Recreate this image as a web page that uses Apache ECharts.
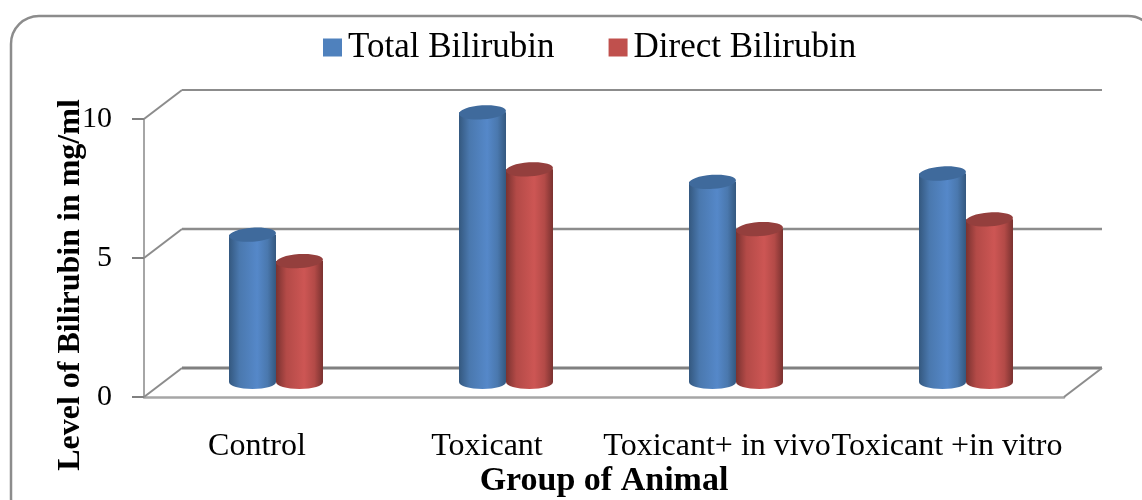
<!DOCTYPE html>
<html>
<head>
<meta charset="utf-8">
<style>html,body{margin:0;padding:0;background:#fff;overflow:hidden}#chart{width:1142px;height:500px}</style>
<script src="https://cdn.jsdelivr.net/npm/echarts@6/dist/echarts.min.js"></script>
</head>
<body>
<div id="chart"></div>
<script>
// Bilirubin levels by animal group
const categories = ['Control', 'Toxicant', 'Toxicant+ in vivo', 'Toxicant +in vitro'];
const totalBilirubin = [5.3, 9.7, 7.2, 7.5];
const directBilirubin = [4.35, 7.65, 5.5, 5.85];
const yTicks = [0, 5, 10];

const FONT = '"Liberation Serif", "Times New Roman", serif';
const DEPTH_X = 38, DEPTH_Y = 29;      // offset of the back wall from the front plane
const BAR_SHIFT_X = 17, BAR_SHIFT_Y = 15; // bars stand part-way into the floor
const BAR_R = 23.5, BAR_RY = 7;

const shade = (edge, mid, peak) => ({
  type: 'linear', x: 0, y: 0, x2: 1, y2: 0,
  colorStops: [
    { offset: 0, color: edge }, { offset: 0.22, color: mid },
    { offset: 0.6, color: peak }, { offset: 0.82, color: mid }, { offset: 1, color: edge }
  ]
});

// One 3D-looking cylinder per data item
function cylinder(dir, body, cap) {
  return function (params, api) {
    const base = api.coord([api.value(0), 0]);
    const top = api.coord([api.value(0), api.value(1)]);
    const cx = base[0] + BAR_SHIFT_X + dir * BAR_R;
    const y0 = base[1] - BAR_SHIFT_Y, y1 = top[1] - BAR_SHIFT_Y;
    return {
      type: 'group',
      children: [
        { type: 'ellipse', shape: { cx, cy: y0, rx: BAR_R, ry: BAR_RY }, style: { fill: body } },
        { type: 'rect', shape: { x: cx - BAR_R, y: y1, width: BAR_R * 2, height: y0 - y1 }, style: { fill: body } },
        { type: 'ellipse', shape: { cx, cy: y1, rx: BAR_R, ry: BAR_RY }, rotation: 0.07, originX: cx, originY: y1, style: { fill: cap } }
      ]
    };
  };
}

// Back wall gridlines, the slanted side edges and the floor
function wall(params, api) {
  const value = api.value(0);
  const p = api.coord([0, value]);
  const band = api.size([1, 0])[0];
  const xStart = p[0] - band / 2;
  const xEnd = xStart + band * categories.length;
  const line = { stroke: '#8c8c8c', lineWidth: 2, fill: null };
  const kids = [
    { type: 'line', shape: { x1: xStart, y1: p[1], x2: xStart + DEPTH_X, y2: p[1] - DEPTH_Y }, style: line },
    { type: 'line', shape: { x1: xStart + DEPTH_X, y1: p[1] - DEPTH_Y, x2: xEnd + DEPTH_X, y2: p[1] - DEPTH_Y },
      style: { stroke: value === 0 ? '#808080' : '#8c8c8c', lineWidth: value === 0 ? 3 : (value === 5 ? 2.5 : 2) } }
  ];
  if (value === 0) {
    kids.push({ type: 'line', shape: { x1: xEnd, y1: p[1], x2: xEnd + DEPTH_X, y2: p[1] - DEPTH_Y }, style: line });
  }
  return { type: 'group', children: kids };
}

const chart = echarts.init(document.getElementById('chart'));
chart.setOption({
  animation: false,
  backgroundColor: '#fff',
  textStyle: { fontFamily: FONT, color: '#000' },
  graphic: [{
    type: 'rect', z: -1,
    shape: { x: 11, y: 16, width: 1145, height: 510, r: 28 },
    style: { fill: '#fff', stroke: '#8c8c8c', lineWidth: 2.5 }
  }],
  legend: {
    left: 318, top: 25, itemWidth: 19, itemHeight: 18, itemGap: 54,
    icon: 'rect',
    textStyle: { fontFamily: FONT, fontSize: 35, color: '#000', padding: [0, 0, 0, 1] },
    data: ['Total Bilirubin', 'Direct Bilirubin']
  },
  grid: { left: 144, right: 78, top: 119, bottom: 103, outerBoundsMode: 'none' },
  xAxis: {
    type: 'category', data: categories,
    axisTick: { show: false },
    axisLine: { lineStyle: { color: '#a6a6a6', width: 2.5 } },
    axisLabel: { interval: 0, fontFamily: FONT, fontSize: 32, color: '#000', margin: 34, padding: [0, 4, 0, 0] },
    name: 'Group of Animal', nameLocation: 'middle', nameGap: 67, nameMoveOverlap: false,
    nameTextStyle: { fontFamily: FONT, fontSize: 34, fontWeight: 'bold', color: '#000' }
  },
  yAxis: {
    type: 'value', min: 0, max: 10, interval: 5,
    splitLine: { show: false },
    axisLine: { show: true, lineStyle: { color: '#a6a6a6', width: 2 } },
    axisTick: { show: true, length: 12, lineStyle: { color: '#808080', width: 2 } },
    axisLabel: { fontFamily: FONT, fontSize: 30, color: '#000', margin: 32 },
    name: 'Level of Bilirubin in mg/ml', nameLocation: 'middle', nameGap: 57, nameMoveOverlap: false,
    nameTextStyle: { fontFamily: FONT, fontSize: 32, fontWeight: 'bold', color: '#000', padding: [0, 54, 0, 0] }
  },
  series: [
    {
      type: 'custom', silent: true, z: 1, coordinateSystem: 'cartesian2d',
      renderItem: wall, encode: { y: 0 }, data: yTicks.map(v => [v])
    },
    {
      name: 'Total Bilirubin', type: 'custom', z: 2,
      itemStyle: { color: '#4f81bd' },
      renderItem: cylinder(-1, shade('#34587f', '#4a78ae', '#5588c9'), '#3f6a9c'),
      encode: { x: 0, y: 1 },
      data: totalBilirubin.map((v, i) => [i, v])
    },
    {
      name: 'Direct Bilirubin', type: 'custom', z: 3,
      itemStyle: { color: '#c0504d' },
      renderItem: cylinder(1, shade('#7a3230', '#b34a47', '#cd5654'), '#943f3d'),
      encode: { x: 0, y: 1 },
      data: directBilirubin.map((v, i) => [i, v])
    }
  ]
});
</script>
</body>
</html>
